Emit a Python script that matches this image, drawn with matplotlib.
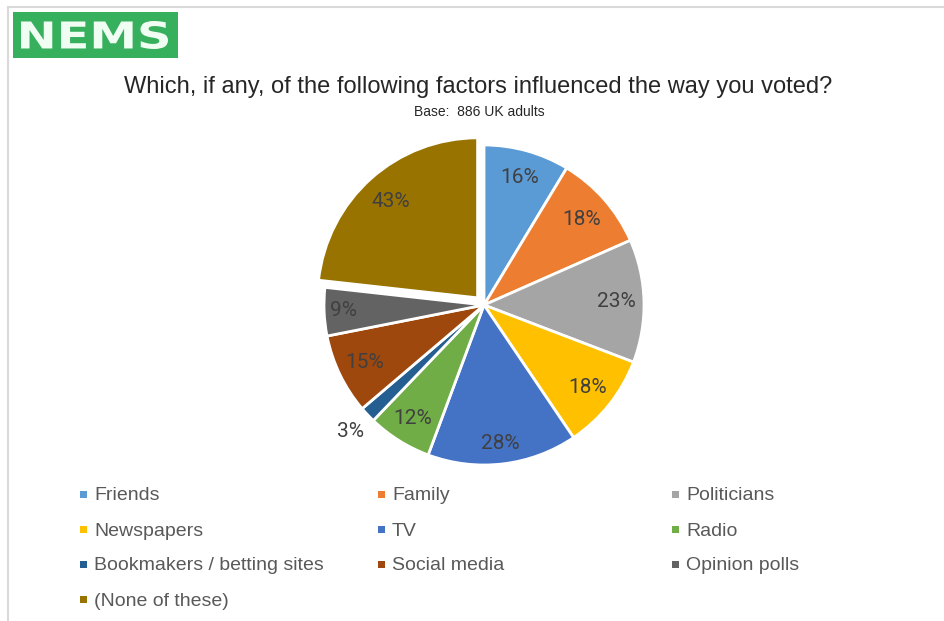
import numpy as np
import matplotlib
matplotlib.use('Agg')
import matplotlib.pyplot as plt
from matplotlib.patches import Rectangle, PathPatch
from matplotlib.lines import Line2D
from matplotlib.textpath import TextPath
from matplotlib.font_manager import FontProperties
from matplotlib.transforms import Affine2D, IdentityTransform

# data
factors = ['Friends', 'Family', 'Politicians', 'Newspapers', 'TV', 'Radio',
           'Bookmakers / betting sites', 'Social media', 'Opinion polls',
           '(None of these)']
percent = [16, 18, 23, 18, 28, 12, 3, 15, 9, 43]

colors = ['#5B9BD5', '#ED7D31', '#A5A5A5', '#FFC000', '#4472C4', '#70AD47',
          '#255E91', '#9E480E', '#636363', '#997300']
explode = [0, 0, 0, 0, 0, 0, 0, 0, 0, 0.06]
label_r = [0.83, 0.81, 0.83, 0.83, 0.87, 0.84, 1.15, 0.83, 0.88, 0.81]

W, H = 945, 621
sans = ['Liberation Sans', 'DejaVu Sans']

fig = plt.figure(figsize=(W / 100, H / 100), dpi=100)

# frame lines (left and top)
fig.add_artist(Line2D([8 / W, 8 / W], [0, 1 - 7 / H], transform=fig.transFigure,
                      color='#d9d9d9', lw=1.5))
fig.add_artist(Line2D([8 / W, 1], [1 - 7 / H, 1 - 7 / H], transform=fig.transFigure,
                      color='#d9d9d9', lw=1.5))

# logo
fig.add_artist(Rectangle((13 / W, 1 - 58 / H), 165 / W, 46 / H,
                         transform=fig.transFigure, color='#36b05d', lw=0))
tp = TextPath((0, 0), 'NEMS', size=40, prop=FontProperties(family='DejaVu Sans', weight='bold'))
ext = tp.get_extents()
sx = (168 - 21) / ext.width
sy = (49 - 21) / ext.height
tr = Affine2D().translate(-ext.x0, -ext.y0).scale(sx, sy).translate(21, H - 49)
fig.add_artist(PathPatch(tr.transform_path(tp), transform=IdentityTransform(),
                         facecolor='#f0fdf3', edgecolor='none'))

# titles
fig.text(478 / W, 1 - 87 / H, 'Which, if any, of the following factors influenced the way you voted?',
         ha='center', va='center', fontsize=17, color='#262626', family=sans)
fig.text(479 / W, 1 - 112 / H, 'Base:  886 UK adults', ha='center', va='center',
         fontsize=10, color='#262626', family=sans)

# pie
cx, cy, r = 484, 305, 160
ax = fig.add_axes([(cx - r) / W, (H - cy - r) / H, 2 * r / W, 2 * r / H])
wedges, _ = ax.pie(percent, colors=colors, startangle=90, counterclock=False,
                   explode=explode,
                   wedgeprops=dict(edgecolor='white', linewidth=2, clip_on=False))
ax.set_xlim(-1, 1)
ax.set_ylim(-1, 1)
ax.set_aspect('equal')
ax.axis('off')

for w, p, lr in zip(wedges, percent, label_r):
    th = np.deg2rad((w.theta1 + w.theta2) / 2)
    x0, y0 = w.center
    ax.text(x0 + lr * np.cos(th), y0 + lr * np.sin(th), f'{p}%', ha='center', va='center',
            fontsize=15, color='#404040', family=['Roboto', 'DejaVu Sans'])

# legend, filled row by row
col_x = [80, 378, 672]
row_y = [494, 529, 564, 599]
for i, (name, c) in enumerate(zip(factors, colors)):
    mx = col_x[i % 3]
    my = row_y[i // 3]
    fig.add_artist(Rectangle((mx / W, 1 - (my + 3.5) / H), 7 / W, 7 / H,
                             transform=fig.transFigure, color=c, lw=0))
    fig.text((mx + 14) / W, 1 - (my + 2) / H, name, ha='left', va='center',
             fontsize=14, color='#595959', family=sans)

fig.savefig('out.png', dpi=100)
